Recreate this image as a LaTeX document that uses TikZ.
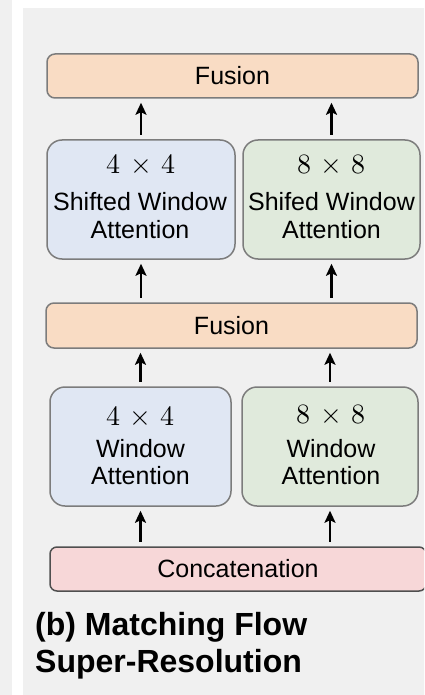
\documentclass[tikz,border=0pt]{standalone}
\usepackage{fontspec}
\usepackage{unicode-math}
\setmainfont{Liberation Sans}
\setmathfont{Latin Modern Math}
\usetikzlibrary{arrows.meta}
\definecolor{panelbg}{HTML}{F0F0F0}
\definecolor{fusionfill}{HTML}{F9DCC4}
\definecolor{bluefill}{HTML}{E0E7F3}
\definecolor{greenfill}{HTML}{E0EADC}
\definecolor{pinkfill}{HTML}{F7D7D8}
\definecolor{boxline}{HTML}{7C7C7C}
\definecolor{darkline}{HTML}{4F4F4F}
\newcommand{\tmul}[2]{$#1\mskip2mu\times\mskip2mu#2$}
\tikzset{
  fusionbox/.style={draw=boxline, line width=1.5pt, fill=fusionfill, rounded corners=8pt,
    inner sep=0pt, font=\fontsize{25}{28}\selectfont},
  attbox/.style={draw=boxline, line width=1.5pt, rounded corners=15pt, inner sep=0pt},
  concatbox/.style={draw=darkline, line width=1.5pt, fill=pinkfill, rounded corners=7pt,
    inner sep=0pt, font=\fontsize{25}{28}\selectfont},
  txt/.style={anchor=base, inner sep=0pt, font=\fontsize{25}{28}\selectfont},
  mathtxt/.style={anchor=base, inner sep=0pt, font=\fontsize{28}{32}\selectfont},
  captxt/.style={anchor=base west, inner sep=0pt, font=\fontsize{32}{37}\selectfont\bfseries},
  arr/.style={line width=2.1pt, -{Stealth[length=12pt,width=11pt,inset=2.5pt]},
    shorten <=4.5pt, shorten >=4pt}
}
\begin{document}
\begin{tikzpicture}[x=1pt,y=-1pt]
\useasboundingbox (0,0) rectangle (424,695);
\clip (0,0) rectangle (424,695);
% background
\fill[panelbg] (0,0) rectangle (12,695);
\fill[panelbg] (23,8) rectangle (430,700);

% boxes
\node[fusionbox, minimum width=371pt, minimum height=44pt] (ftop) at (232.5,76) {Fusion};
\node[attbox, fill=bluefill, minimum width=188pt, minimum height=119pt] (sl) at (141,199.5) {};
\node[attbox, fill=greenfill, minimum width=177pt, minimum height=119pt] (sr) at (331.5,199.5) {};
\node[fusionbox, minimum width=371pt, minimum height=45pt] (fmid) at (231.5,325.5) {Fusion};
\node[attbox, fill=bluefill, minimum width=181pt, minimum height=119pt] (wl) at (140.5,446.5) {};
\node[attbox, fill=greenfill, minimum width=176pt, minimum height=119pt] (wr) at (330,446.5) {};
\node[concatbox, minimum width=376pt, minimum height=44pt] (cat) at (238,569) {Concatenation};

% texts in shifted window boxes
\node[mathtxt] (slm) at (141,173) {\tmul{4}{4}};
\node[txt] (slt) at (140,210) {Shifted Window};
\node[txt] (sla) at (140,238) {Attention};
\node[mathtxt] (srm) at (331.5,173) {\tmul{8}{8}};
\node[txt] (srt) at (331.5,210) {Shifed Window};
\node[txt] (sra) at (331.5,238) {Attention};

% texts in window boxes
\node[mathtxt] (wlm) at (140.5,425) {\tmul{4}{4}};
\node[txt] (wlt) at (140.5,457) {Window};
\node[txt] (wla) at (140.5,484.5) {Attention};
\node[mathtxt] (wrm) at (331,423) {\tmul{8}{8}};
\node[txt] (wrt) at (331,457) {Window};
\node[txt] (wra) at (331,484.5) {Attention};

% arrows
\draw[arr] (sl.north) -- (sl.north |- ftop.south);
\draw[arr] (sr.north) -- (sr.north |- ftop.south);
\draw[arr] (fmid.north -| sl.south) -- (sl.south);
\draw[arr] (fmid.north -| sr.south) -- (sr.south);
\draw[arr] (wl.north) -- (wl.north |- fmid.south);
\draw[arr] (wr.north) -- (wr.north |- fmid.south);
\draw[arr] (cat.north -| wl.south) -- (wl.south);
\draw[arr] (cat.north -| wr.south) -- (wr.south);

% caption
\node[captxt] (cap1) at (35,635) {(b) Matching Flow};
\node[captxt] (cap2) at (35,672) {Super-Resolution};
\end{tikzpicture}
\end{document}
